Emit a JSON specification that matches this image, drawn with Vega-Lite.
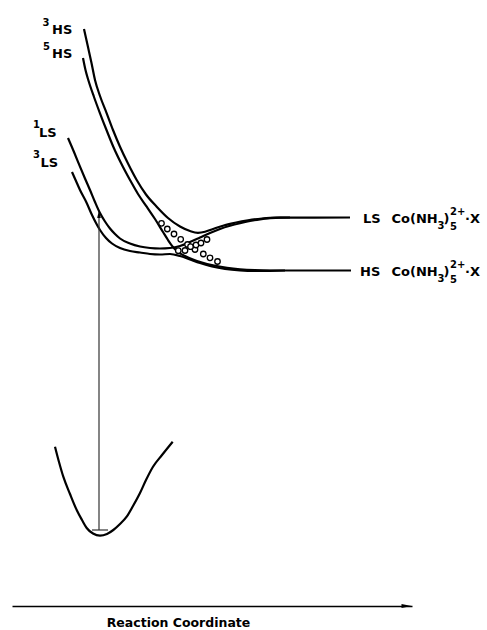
{
  "$schema": "https://vega.github.io/schema/vega-lite/v6.json",
  "width": 400,
  "height": 606,
  "autosize": {"type": "none"},
  "padding": {"left": 12, "top": 0, "right": 75, "bottom": 24},
  "background": "white",
  "config": {
    "view": {"stroke": null},
    "text": {"font": "DejaVu Sans", "fontWeight": "bold", "color": "black"}
  },
  "datasets": {
    "curves": [
      {"curve": "3HS", "x": 84, "y": 29}, {"curve": "3HS", "x": 88, "y": 47}, {"curve": "3HS", "x": 91.5, "y": 63}, {"curve": "3HS", "x": 95, "y": 80}, {"curve": "3HS", "x": 100, "y": 96}, {"curve": "3HS", "x": 106.7, "y": 113.3}, {"curve": "3HS", "x": 113, "y": 130}, {"curve": "3HS", "x": 120, "y": 146.7}, {"curve": "3HS", "x": 128, "y": 163.5}, {"curve": "3HS", "x": 136.7, "y": 180}, {"curve": "3HS", "x": 146, "y": 194.5}, {"curve": "3HS", "x": 156.7, "y": 206.7}, {"curve": "3HS", "x": 168, "y": 218}, {"curve": "3HS", "x": 180, "y": 226.5}, {"curve": "3HS", "x": 190, "y": 231}, {"curve": "3HS", "x": 198, "y": 232.8}, {"curve": "3HS", "x": 205, "y": 231.8}, {"curve": "3HS", "x": 213, "y": 229}, {"curve": "3HS", "x": 223, "y": 225.7}, {"curve": "3HS", "x": 235, "y": 222.8}, {"curve": "3HS", "x": 248, "y": 220.3}, {"curve": "3HS", "x": 262, "y": 218.5}, {"curve": "3HS", "x": 276, "y": 217.6}, {"curve": "3HS", "x": 350, "y": 217.5},
      {"curve": "5HS", "x": 83, "y": 58}, {"curve": "5HS", "x": 85.5, "y": 70}, {"curve": "5HS", "x": 88.3, "y": 80}, {"curve": "5HS", "x": 94, "y": 97}, {"curve": "5HS", "x": 100, "y": 113.3}, {"curve": "5HS", "x": 106.5, "y": 130}, {"curve": "5HS", "x": 113.3, "y": 146.7}, {"curve": "5HS", "x": 121, "y": 163}, {"curve": "5HS", "x": 130, "y": 180}, {"curve": "5HS", "x": 138, "y": 194}, {"curve": "5HS", "x": 146.7, "y": 206.7}, {"curve": "5HS", "x": 155, "y": 219}, {"curve": "5HS", "x": 163, "y": 232}, {"curve": "5HS", "x": 168, "y": 240}, {"curve": "5HS", "x": 173, "y": 247}, {"curve": "5HS", "x": 178, "y": 252}, {"curve": "5HS", "x": 185, "y": 256}, {"curve": "5HS", "x": 193, "y": 259.5}, {"curve": "5HS", "x": 202, "y": 262.5}, {"curve": "5HS", "x": 213, "y": 265.3}, {"curve": "5HS", "x": 227, "y": 267.8}, {"curve": "5HS", "x": 240, "y": 269.3}, {"curve": "5HS", "x": 255, "y": 270.2}, {"curve": "5HS", "x": 270, "y": 270.5}, {"curve": "5HS", "x": 351, "y": 270.5},
      {"curve": "1LS", "x": 68, "y": 138}, {"curve": "1LS", "x": 74, "y": 152}, {"curve": "1LS", "x": 80, "y": 166.7}, {"curve": "1LS", "x": 85, "y": 178.5}, {"curve": "1LS", "x": 90, "y": 190}, {"curve": "1LS", "x": 95, "y": 202}, {"curve": "1LS", "x": 100, "y": 213}, {"curve": "1LS", "x": 105, "y": 221.5}, {"curve": "1LS", "x": 110, "y": 228.5}, {"curve": "1LS", "x": 115, "y": 234}, {"curve": "1LS", "x": 120, "y": 238.5}, {"curve": "1LS", "x": 130, "y": 243.5}, {"curve": "1LS", "x": 140, "y": 246.5}, {"curve": "1LS", "x": 150, "y": 248}, {"curve": "1LS", "x": 160, "y": 248.5}, {"curve": "1LS", "x": 170, "y": 248}, {"curve": "1LS", "x": 180, "y": 246}, {"curve": "1LS", "x": 190, "y": 242}, {"curve": "1LS", "x": 200, "y": 237.5}, {"curve": "1LS", "x": 210, "y": 233}, {"curve": "1LS", "x": 220, "y": 229}, {"curve": "1LS", "x": 230, "y": 225.8}, {"curve": "1LS", "x": 240, "y": 223.2}, {"curve": "1LS", "x": 250, "y": 221}, {"curve": "1LS", "x": 260, "y": 219.3}, {"curve": "1LS", "x": 270, "y": 218.2}, {"curve": "1LS", "x": 280, "y": 217.6}, {"curve": "1LS", "x": 290, "y": 217.5},
      {"curve": "3LS", "x": 72, "y": 172}, {"curve": "3LS", "x": 76, "y": 181}, {"curve": "3LS", "x": 80, "y": 190}, {"curve": "3LS", "x": 86.7, "y": 203}, {"curve": "3LS", "x": 92, "y": 215}, {"curve": "3LS", "x": 96, "y": 223}, {"curve": "3LS", "x": 100, "y": 230}, {"curve": "3LS", "x": 106, "y": 238}, {"curve": "3LS", "x": 112, "y": 243.5}, {"curve": "3LS", "x": 120, "y": 248}, {"curve": "3LS", "x": 130, "y": 251}, {"curve": "3LS", "x": 140, "y": 252.5}, {"curve": "3LS", "x": 150, "y": 254}, {"curve": "3LS", "x": 160, "y": 254.5}, {"curve": "3LS", "x": 170, "y": 254}, {"curve": "3LS", "x": 180, "y": 256}, {"curve": "3LS", "x": 190, "y": 259.5}, {"curve": "3LS", "x": 200, "y": 263}, {"curve": "3LS", "x": 212, "y": 266.5}, {"curve": "3LS", "x": 225, "y": 269}, {"curve": "3LS", "x": 240, "y": 270.5}, {"curve": "3LS", "x": 255, "y": 271}, {"curve": "3LS", "x": 270, "y": 270.8}, {"curve": "3LS", "x": 285, "y": 270.5},
      {"curve": "ground", "x": 55, "y": 446.7}, {"curve": "ground", "x": 59, "y": 462}, {"curve": "ground", "x": 63.3, "y": 476.7}, {"curve": "ground", "x": 70, "y": 494}, {"curve": "ground", "x": 76.7, "y": 510}, {"curve": "ground", "x": 82, "y": 520}, {"curve": "ground", "x": 86.7, "y": 528}, {"curve": "ground", "x": 93, "y": 533.5}, {"curve": "ground", "x": 100, "y": 535.7}, {"curve": "ground", "x": 107, "y": 534}, {"curve": "ground", "x": 113.3, "y": 530}, {"curve": "ground", "x": 120, "y": 524}, {"curve": "ground", "x": 126.7, "y": 516.7}, {"curve": "ground", "x": 133, "y": 506}, {"curve": "ground", "x": 140, "y": 493}, {"curve": "ground", "x": 146, "y": 480}, {"curve": "ground", "x": 153, "y": 466.7}, {"curve": "ground", "x": 162, "y": 455}, {"curve": "ground", "x": 172.7, "y": 441.7}
    ],
    "circles": [
      {"x": 161.5, "y": 223.3}, {"x": 167.3, "y": 229}, {"x": 174, "y": 234}, {"x": 180.7, "y": 239.3}, {"x": 187.5, "y": 244.5}, {"x": 195, "y": 249.5}, {"x": 203.3, "y": 254}, {"x": 210, "y": 257.8}, {"x": 217.5, "y": 261.5},
      {"x": 178.3, "y": 250.7}, {"x": 185, "y": 250.5}, {"x": 190.5, "y": 246.7}, {"x": 196, "y": 245}, {"x": 201, "y": 243}, {"x": 207, "y": 239.5}
    ],
    "rules": [
      {"part": "excitation", "x": 99, "x2": 99, "y": 530, "y2": 216},
      {"part": "v0", "x": 92, "x2": 108, "y": 530, "y2": 530}
    ],
    "heads": [
      {"part": "excitation", "x": 99, "y": 214}
    ],
    "axishead": [
      {"x": 406.5, "y": 606}
    ],
    "mainText": [
      {"text": "HS", "x": 52, "y": 34},
      {"text": "HS", "x": 52, "y": 58.3},
      {"text": "LS", "x": 39, "y": 136.7},
      {"text": "LS", "x": 40.5, "y": 166.7},
      {"text": "LS", "x": 363, "y": 222.5},
      {"text": "Co(NH", "x": 391.5, "y": 222.5},
      {"text": ")", "x": 443.5, "y": 222.5},
      {"text": "·X", "x": 465, "y": 222.5},
      {"text": "HS", "x": 360, "y": 275.5},
      {"text": "Co(NH", "x": 391.5, "y": 275.5},
      {"text": ")", "x": 443.5, "y": 275.5},
      {"text": "·X", "x": 465, "y": 275.5}
    ],
    "smallText": [
      {"text": "3", "x": 42.5, "y": 26},
      {"text": "5", "x": 43, "y": 50},
      {"text": "1", "x": 33, "y": 127.5},
      {"text": "3", "x": 33, "y": 157.5},
      {"text": "3", "x": 437.5, "y": 229},
      {"text": "2+", "x": 450, "y": 215},
      {"text": "5", "x": 450, "y": 229.5},
      {"text": "3", "x": 437.5, "y": 282},
      {"text": "2+", "x": 450, "y": 268},
      {"text": "5", "x": 450, "y": 282.5}
    ]
  },
  "encoding": {
    "x": {
      "field": "x", "type": "quantitative",
      "scale": {"domain": [12, 412], "nice": false, "zero": false},
      "axis": {
        "title": "Reaction Coordinate",
        "domain": true, "domainColor": "black", "domainWidth": 1.5,
        "ticks": false, "labels": false, "grid": false,
        "titleFont": "DejaVu Sans", "titleFontSize": 12.5, "titleFontWeight": "bold", "titleColor": "black",
        "titleX": 166, "titleY": 20, "titleBaseline": "alphabetic", "titleAlign": "center"
      }
    },
    "y": {
      "field": "y", "type": "quantitative",
      "scale": {"domain": [0, 606], "reverse": true, "nice": false, "zero": false},
      "axis": null
    }
  },
  "layer": [
    {
      "data": {"name": "curves"},
      "mark": {"type": "line", "interpolate": "monotone", "color": "black", "strokeWidth": 2.2},
      "encoding": {"detail": {"field": "curve"}}
    },
    {
      "data": {"name": "rules"},
      "mark": {"type": "rule", "color": "#333333", "strokeWidth": 1.2},
      "encoding": {"x2": {"field": "x2"}, "y2": {"field": "y2"}}
    },
    {
      "data": {"name": "heads"},
      "mark": {"type": "point", "shape": "M0,-1L0.45,1L-0.45,1Z", "size": 64, "filled": true, "color": "black", "opacity": 1}
    },
    {
      "data": {"name": "axishead"},
      "mark": {"type": "point", "shape": "M-1,-0.4L1,0L-1,0.4Z", "size": 100, "filled": true, "color": "black", "opacity": 1}
    },
    {
      "data": {"name": "circles"},
      "mark": {"type": "point", "shape": "circle", "size": 30, "filled": false, "fill": "white", "fillOpacity": 1, "stroke": "black", "strokeWidth": 1.3, "opacity": 1}
    },
    {
      "data": {"name": "mainText"},
      "mark": {"type": "text", "fontSize": 13, "align": "left", "baseline": "alphabetic"},
      "encoding": {"text": {"field": "text"}}
    },
    {
      "data": {"name": "smallText"},
      "mark": {"type": "text", "fontSize": 10, "align": "left", "baseline": "alphabetic"},
      "encoding": {"text": {"field": "text"}}
    }
  ]
}
